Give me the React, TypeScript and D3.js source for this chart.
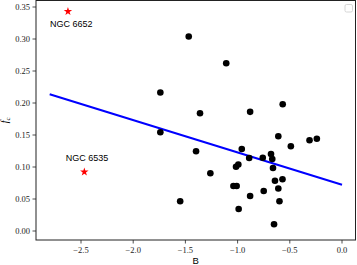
import React from "react";
import * as d3 from "d3";

const W = 357;
const H = 265;

const clusterB = [
  -1.468, -1.109, -1.74, -1.36, -0.88, -0.568, -1.74, -0.61, -0.311, -0.241,
  -1.398, -0.96, -0.49, -0.68, -0.668, -0.759, -0.889, -0.993, -1.015, -0.661,
  -1.261, -0.57, -0.642, -1.04, -1.009, -0.61, -0.75, -0.88, -1.55, -0.599,
  -0.99, -0.651,
];
const clusterFc = [
  0.304, 0.262, 0.2164, 0.1839, 0.1862, 0.198, 0.1542, 0.1481, 0.1419, 0.1441,
  0.1245, 0.1281, 0.1325, 0.1203, 0.1125, 0.1145, 0.1141, 0.1039, 0.1005, 0.0984,
  0.0903, 0.0808, 0.0786, 0.0703, 0.0703, 0.0664, 0.0625, 0.0547, 0.0466, 0.0466,
  0.0344, 0.0106,
];

const outlierNames = ["NGC 6652", "NGC 6535"];
const outlierB = [-2.625, -2.468];
const outlierFc = [0.343, 0.0922];

const fitB = [-2.8, 0.0];
const fitFc = [0.2136, 0.0723];

const xTicks = [-2.5, -2.0, -1.5, -1.0, -0.5, 0.0];
const yTicks = [0.0, 0.05, 0.1, 0.15, 0.2, 0.25, 0.3, 0.35];

const left = 36;
const right = 355.5;
const top = 0.5;
const bottom = 240;

const x = d3.scaleLinear().domain([-2.5, 0]).range([81, 342]);
const y = d3.scaleLinear().domain([0, 0.35]).range([231, 7]);

const fmt = (v: number, d: number) => v.toFixed(d).replace("-", "\u2212");

const tickFont = "'Liberation Serif', 'DejaVu Serif', serif";
const sansFont = "'Liberation Sans', Arial, sans-serif";

export default function App() {
  const line = d3
    .line<number>()
    .x((_, i) => x(fitB[i]))
    .y((_, i) => y(fitFc[i]));
  const star = d3.symbol().type(d3.symbolStar).size(22)() as string;

  return (
    <div style={{ position: "absolute", left: 0, top: 0 }}>
      <svg width={W} height={H} style={{ display: "block", background: "#fff" }}>
        {/* fit line */}
        <path d={line(fitB) as string} stroke="#0000ff" strokeWidth={2} fill="none" />
        {/* clusters */}
        {clusterB.map((b, i) => (
          <circle key={i} cx={x(b)} cy={y(clusterFc[i])} r={3.3} fill="#000" />
        ))}
        {/* outliers */}
        {outlierB.map((b, i) => (
          <g key={i}>
            <path d={star} transform={`translate(${x(b)},${y(outlierFc[i])})`} fill="#ff0000" />
          </g>
        ))}
        <text x={x(outlierB[0]) - 18} y={y(outlierFc[0]) + 16} fontFamily={sansFont} fontSize={9} fill="#000">
          {outlierNames[0]}
        </text>
        <text x={x(outlierB[1]) - 18.5} y={y(outlierFc[1]) - 11} fontFamily={sansFont} fontSize={9} fill="#000">
          {outlierNames[1]}
        </text>
        {/* frame */}
        <rect x={left} y={top} width={right - left} height={bottom - top} fill="none" stroke="#222" strokeWidth={1} />
        {/* x ticks */}
        {xTicks.map((t) => (
          <g key={t}>
            <line x1={x(t)} x2={x(t)} y1={bottom} y2={bottom + 3.5} stroke="#222" strokeWidth={0.8} />
            <text x={x(t)} y={bottom + 13} textAnchor="middle" fontFamily={tickFont} fontSize={8.5} fill="#222">
              {fmt(t, 1)}
            </text>
          </g>
        ))}
        {/* y ticks */}
        {yTicks.map((t) => (
          <g key={t}>
            <line x1={left - 3.5} x2={left} y1={y(t)} y2={y(t)} stroke="#222" strokeWidth={0.8} />
            <text x={left - 6} y={y(t) + 3} textAnchor="end" fontFamily={tickFont} fontSize={8.5} fill="#222">
              {fmt(t, 2)}
            </text>
          </g>
        ))}
        {/* axis labels */}
        <text x={(left + right) / 2} y={bottom + 24} textAnchor="middle" fontFamily={sansFont} fontSize={9.5} fill="#000">
          B
        </text>
        <text
          transform={`translate(8,${(top + bottom) / 2}) rotate(-90)`}
          textAnchor="middle"
          fontFamily={tickFont}
          fontSize={10}
          fill="#000"
        >
          <tspan fontStyle="italic">f</tspan>
          <tspan fontSize={7} dy={2}>c</tspan>
        </text>
        {/* empty legend */}
        <rect x={345} y={4.5} width={7.5} height={7.5} rx={1.5} fill="#fff" stroke="#ccc" strokeWidth={0.8} />
      </svg>
    </div>
  );
}
